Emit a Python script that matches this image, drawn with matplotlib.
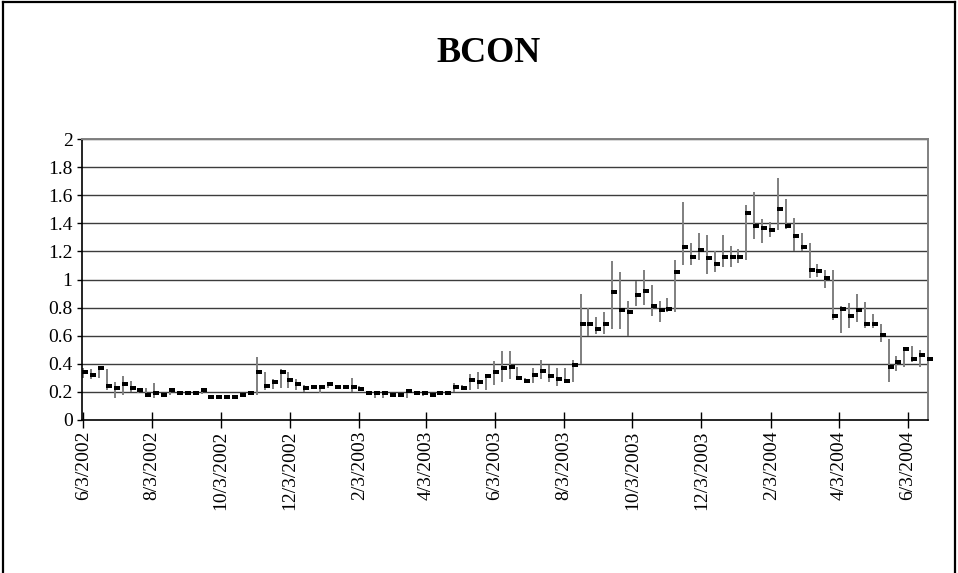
import matplotlib
matplotlib.use("Agg")
import matplotlib.pyplot as plt
import matplotlib.dates as mdates
from matplotlib.path import Path
from matplotlib.lines import Line2D
import pandas as pd
import datetime as dt

title = "BCON"
start_date = "2002-06-03"

close = [0.34, 0.32, 0.37, 0.24, 0.23, 0.255, 0.225, 0.21, 0.18, 0.195,
         0.18, 0.21, 0.195, 0.195, 0.195, 0.215, 0.167, 0.167, 0.167, 0.167,
         0.18, 0.195, 0.34, 0.24, 0.27, 0.345, 0.285, 0.255, 0.225, 0.235,
         0.235, 0.255, 0.235, 0.235, 0.235, 0.22, 0.195, 0.195, 0.195, 0.18,
         0.18, 0.205, 0.195, 0.195, 0.18, 0.19, 0.195, 0.235, 0.225, 0.285,
         0.27, 0.31, 0.34, 0.37, 0.38, 0.30, 0.28, 0.32, 0.35, 0.31,
         0.29, 0.28, 0.39, 0.68, 0.68, 0.65, 0.68, 0.91, 0.78, 0.77,
         0.89, 0.92, 0.81, 0.78, 0.79, 1.05, 1.23, 1.16, 1.21, 1.15,
         1.11, 1.16, 1.16, 1.16, 1.47, 1.38, 1.365, 1.35, 1.50, 1.38,
         1.31, 1.23, 1.07, 1.06, 1.01, 0.74, 0.79, 0.74, 0.78, 0.68,
         0.68, 0.605, 0.38, 0.41, 0.505, 0.435, 0.465, 0.435]
high = [0.37, 0.36, 0.38, 0.36, 0.27, 0.31, 0.28, 0.225, 0.23, 0.26,
        0.19, 0.215, 0.20, 0.20, 0.20, 0.225, 0.18, 0.17, 0.17, 0.17,
        0.19, 0.20, 0.445, 0.34, 0.29, 0.36, 0.34, 0.29, 0.25, 0.25,
        0.25, 0.27, 0.25, 0.25, 0.30, 0.24, 0.20, 0.20, 0.20, 0.19,
        0.19, 0.215, 0.20, 0.20, 0.19, 0.20, 0.20, 0.26, 0.25, 0.33,
        0.34, 0.32, 0.42, 0.49, 0.49, 0.38, 0.30, 0.37, 0.43, 0.39,
        0.37, 0.37, 0.43, 0.90, 0.80, 0.73, 0.77, 1.13, 1.05, 0.845,
        0.99, 1.07, 0.96, 0.845, 0.87, 1.14, 1.55, 1.26, 1.33, 1.32,
        1.20, 1.32, 1.24, 1.22, 1.53, 1.62, 1.43, 1.41, 1.72, 1.57,
        1.44, 1.33, 1.26, 1.11, 1.07, 1.07, 0.81, 0.83, 0.90, 0.84,
        0.755, 0.685, 0.58, 0.455, 0.52, 0.525, 0.50, 0.46]
low = [0.30, 0.29, 0.30, 0.21, 0.155, 0.18, 0.20, 0.19, 0.17, 0.16,
       0.17, 0.18, 0.18, 0.18, 0.185, 0.185, 0.16, 0.16, 0.16, 0.16,
       0.17, 0.18, 0.18, 0.21, 0.22, 0.23, 0.23, 0.21, 0.20, 0.22,
       0.19, 0.23, 0.22, 0.22, 0.20, 0.21, 0.18, 0.16, 0.16, 0.17,
       0.17, 0.16, 0.18, 0.17, 0.17, 0.18, 0.19, 0.20, 0.21, 0.21,
       0.22, 0.21, 0.25, 0.27, 0.29, 0.29, 0.27, 0.26, 0.29, 0.27,
       0.24, 0.27, 0.27, 0.40, 0.60, 0.61, 0.61, 0.65, 0.65, 0.60,
       0.81, 0.82, 0.74, 0.695, 0.77, 0.77, 1.10, 1.10, 1.14, 1.04,
       1.05, 1.09, 1.09, 1.12, 1.14, 1.29, 1.26, 1.30, 1.35, 1.36,
       1.20, 1.20, 1.01, 1.02, 0.94, 0.71, 0.62, 0.655, 0.695, 0.655,
       0.655, 0.555, 0.27, 0.35, 0.38, 0.41, 0.38, 0.40]

dates = pd.date_range(start_date, periods=len(close), freq="7D").to_pydatetime()

y_ticks = [0, 0.2, 0.4, 0.6, 0.8, 1, 1.2, 1.4, 1.6, 1.8, 2]
y_tick_labels = ["0", "0.2", "0.4", "0.6", "0.8", "1", "1.2", "1.4", "1.6", "1.8", "2"]

serif = ["Liberation Serif", "DejaVu Serif"]

W, H = 958, 573
fig = plt.figure(figsize=(W / 100, H / 100), dpi=100)
fig.patch.set_facecolor("white")

L, R, T, B = 82, 928, 139, 420
ax = fig.add_axes([L / W, 1 - B / H, (R - L) / W, (B - T) / H])

# grid lines
for yv in y_ticks[1:]:
    ax.axhline(yv, color="#3c3c3c", lw=1.0, zorder=1)

# high-low lines
ax.vlines(dates, low, high, colors="#7f7f7f", lw=1.4, zorder=2)

# close markers (small black bar slightly to the right of the line)
mk = Path([(-1, -1.6), (5, -1.6), (5, 1.6), (-1, 1.6), (-1, -1.6)],
          [Path.MOVETO, Path.LINETO, Path.LINETO, Path.LINETO, Path.CLOSEPOLY])
ax.plot(dates, close, linestyle="none", marker=mk, markersize=7.2,
        markerfacecolor="black", markeredgewidth=0, zorder=3, clip_on=False)

ax.set_ylim(0, 2)
ax.set_xlim(dates[0] - dt.timedelta(days=1), dates[-1])

ax.set_yticks(y_ticks)
ax.set_yticklabels(y_tick_labels, fontfamily=serif, fontsize=14)

ax.xaxis.set_major_locator(mdates.MonthLocator(bymonth=[2, 4, 6, 8, 10, 12], bymonthday=3))
ax.xaxis.set_major_formatter(plt.FuncFormatter(
    lambda v, p: (lambda d: f"{d.month}/{d.day}/{d.year}")(mdates.num2date(v))))
ax.tick_params(axis="x", direction="inout", length=11.5, width=1.0, color="black",
               labelrotation=90, labelsize=14, pad=2)
ax.tick_params(axis="y", direction="out", length=3.8, width=1.0, color="black",
               labelsize=14, pad=3)
for lbl in ax.get_xticklabels() + ax.get_yticklabels():
    lbl.set_fontfamily(serif)

for s in ["top", "right"]:
    ax.spines[s].set_color("#808080")
    ax.spines[s].set_linewidth(1.4)
for s in ["left", "bottom"]:
    ax.spines[s].set_color("black")
    ax.spines[s].set_linewidth(1.2)

fig.text(489 / W, 1 - 53 / H, title, ha="center", va="center",
         fontfamily=serif, fontsize=26, fontweight="bold")

# outer chart frame
for (x0, y0, x1, y1) in [(3, 2, 955, 2), (3, 2, 3, 573), (955, 2, 955, 573)]:
    fig.add_artist(Line2D([x0 / W, x1 / W], [1 - y0 / H, 1 - y1 / H],
                          transform=fig.transFigure, color="black", lw=1.6))

fig.savefig("out.png", dpi=100)
